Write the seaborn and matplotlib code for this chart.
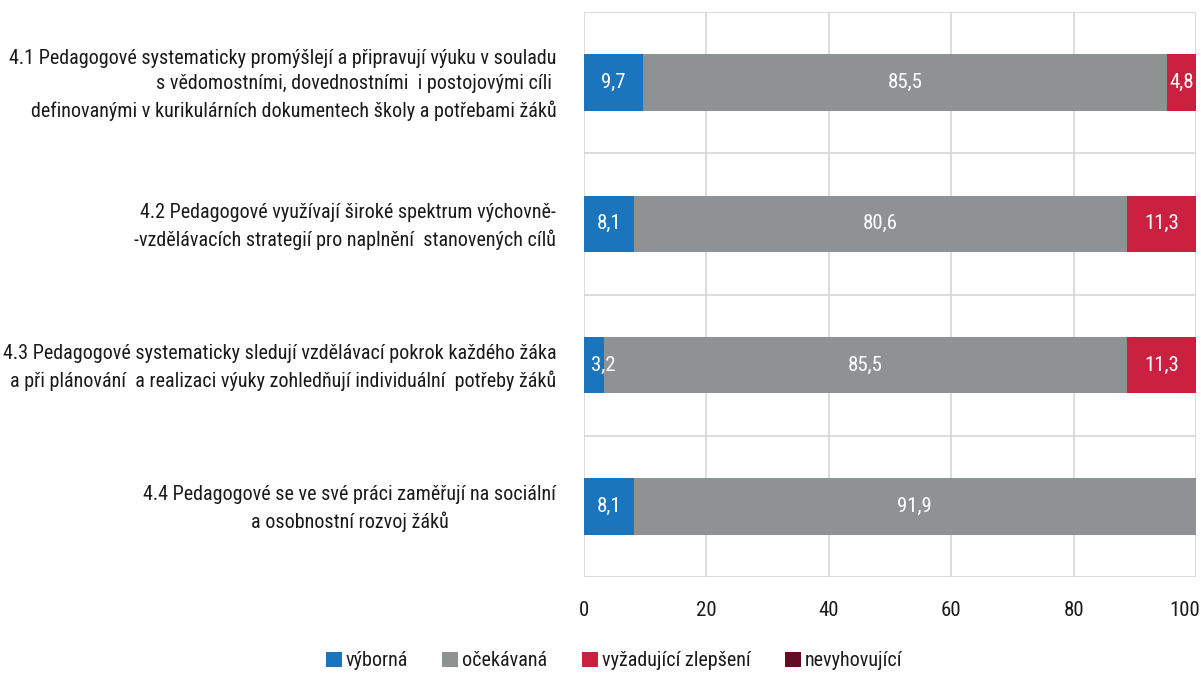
import matplotlib
matplotlib.use("Agg")
import matplotlib.pyplot as plt
import matplotlib.transforms as mtransforms
import seaborn as sns
import numpy as np
from matplotlib.patches import Patch
from matplotlib.ticker import FixedLocator
from matplotlib import font_manager as fm

categories = [
    "4.1 Pedagogové systematicky promýšlejí a připravují výuku v souladu\n"
    "s vědomostními, dovednostními  i postojovými cíli \n"
    "definovanými v kurikulárních dokumentech školy a potřebami žáků",
    "4.2 Pedagogové využívají široké spektrum výchovně-\n"
    "-vzdělávacích strategií pro naplnění  stanovených cílů",
    "4.3 Pedagogové systematicky sledují vzdělávací pokrok každého žáka\n"
    "a při plánování  a realizaci výuky zohledňují individuální  potřeby žáků",
    "4.4 Pedagogové se ve své práci zaměřují na sociální\n"
    "a osobnostní rozvoj žáků",
]
series_names = ["výborná", "očekávaná", "vyžadující zlepšení", "nevyhovující"]
vyborna = [9.7, 8.1, 3.2, 8.1]
ocekavana = [85.5, 80.6, 85.5, 91.9]
zlepseni = [4.8, 11.3, 11.3, 0.0]
nevyhovujici = [0.0, 0.0, 0.0, 0.0]
x_ticks = [0, 20, 40, 60, 80, 100]

colors = ["#1b75bc", "#8f9293", "#c9213f", "#620d21"]

sns.set_theme(style="white")
installed = set(f.name for f in fm.fontManager.ttflist)
fam = [f for f in ["Roboto Condensed", "Archivo Narrow", "Liberation Sans Narrow"] if f in installed]
plt.rcParams["font.family"] = fam[:1] + ["DejaVu Sans"]

fig = plt.figure(figsize=(12.01, 6.75), dpi=100)
ax = fig.add_axes([584 / 1201, 1 - 577 / 675, (1196 - 584) / 1201, (577 - 12) / 675])

series = [vyborna, ocekavana, zlepseni, nevyhovujici]
cum = np.cumsum(np.array(series), axis=0)

# draw from the widest cumulative to the narrowest so segments stack
for i in range(len(series) - 1, -1, -1):
    sns.barplot(x=cum[i], y=categories, color=colors[i], width=0.4,
                orient="h", ax=ax, saturation=1, edgecolor="none", linewidth=0)

# value labels
for i in range(len(series)):
    starts = cum[i] - np.array(series[i])
    for j, v in enumerate(series[i]):
        if v <= 0:
            continue
        txt = f"{v:.1f}".replace(".", ",")
        if starts[j] == 0 and v < 5:
            # too narrow: keep the label inside the plot area
            ax.text(starts[j] + 1.1, j, txt, ha="left", va="center",
                    color="white", fontsize=15)
        else:
            ax.text(starts[j] + v / 2, j, txt, ha="center", va="center",
                    color="white", fontsize=15)

ax.set_xlim(0, 100)
ax.set_ylim(3.5, -0.5)
ax.xaxis.set_major_locator(FixedLocator(x_ticks))
ax.set_xticklabels([str(t) for t in x_ticks])
ax.yaxis.set_minor_locator(FixedLocator([-0.5, 0.5, 1.5, 2.5, 3.5]))
ax.grid(True, axis="x", which="major", color="#d6d6d6", linewidth=1.2)
ax.grid(True, axis="y", which="minor", color="#d6d6d6", linewidth=1.2)
ax.grid(False, axis="y", which="major")
ax.set_axisbelow(True)
for s in ax.spines.values():
    s.set_visible(False)
ax.set_xlabel("")
ax.set_ylabel("")
ax.tick_params(axis="x", length=0, pad=17, labelsize=15, colors="#1a1a1a")
ax.tick_params(axis="y", which="both", length=0, pad=20, labelsize=14.5, colors="#1a1a1a")
up = mtransforms.ScaledTranslation(0, 3.5 / 100, fig.dpi_scale_trans)
for k, lab in enumerate(ax.get_yticklabels()):
    lab.set_multialignment("center" if k == 3 else "right")
    lab.set_linespacing(1.45)
    lab.set_transform(lab.get_transform() + up)
xlabs = ax.get_xticklabels()
xlabs[-1].set_ha("right")
xlabs[-1].set_transform(xlabs[-1].get_transform()
                        + mtransforms.ScaledTranslation(4 / 100, 0, fig.dpi_scale_trans))

handles = [Patch(facecolor=c, edgecolor="none", label=n) for c, n in zip(colors, series_names)]
fig.legend(handles=handles, loc="center", bbox_to_anchor=(614 / 1201, 1 - 661 / 675), ncol=4,
           frameon=False, fontsize=14.5, handlelength=0.8, handleheight=0.8,
           handletextpad=0.2, columnspacing=1.7, labelcolor="#1a1a1a")

fig.savefig("out.png", dpi=100)
